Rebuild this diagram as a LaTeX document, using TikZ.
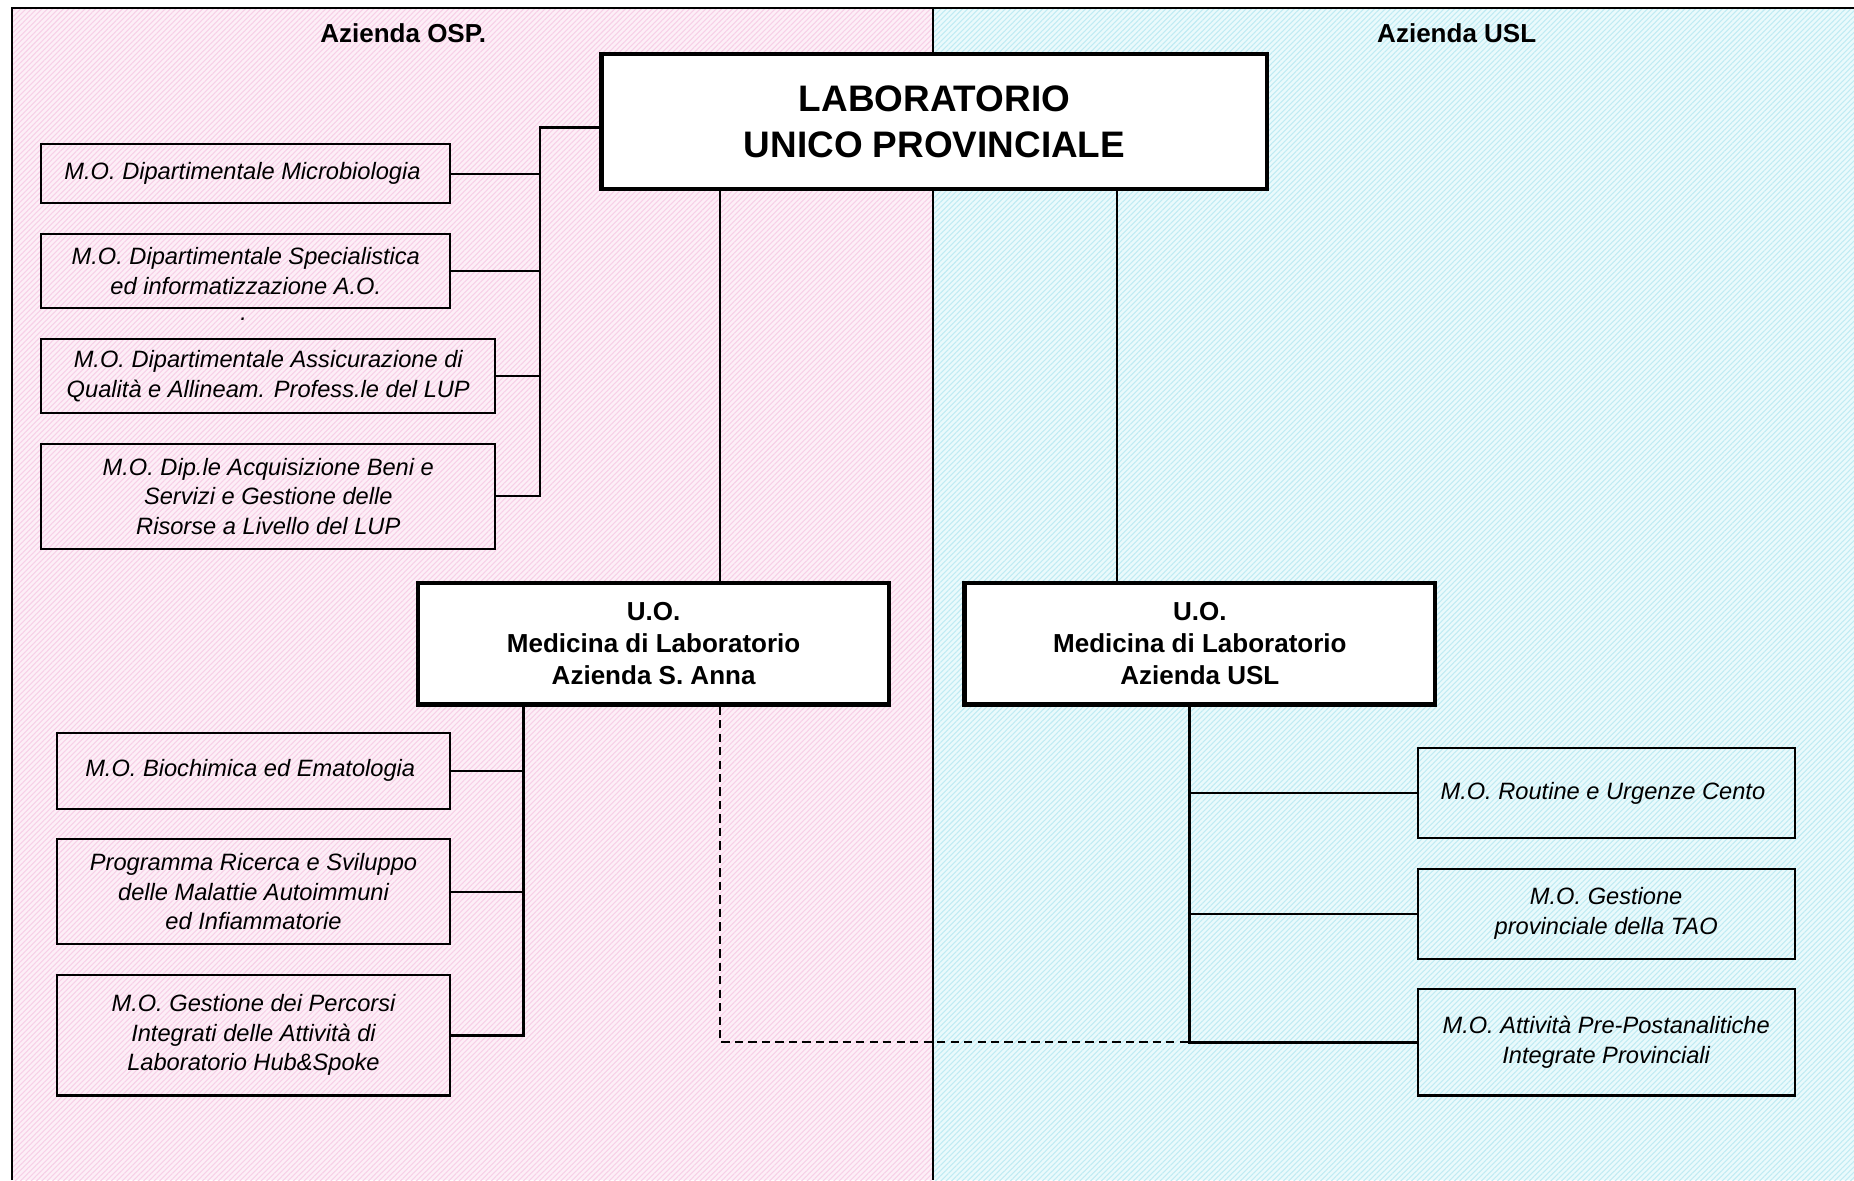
\documentclass[tikz,border=0pt]{standalone}
\usepackage{fontspec}
\setmainfont{Liberation Sans}
\usetikzlibrary{positioning,calc,patterns.meta}
\definecolor{OspPink}{HTML}{FDEFF7}
\definecolor{OspHatch}{HTML}{F7D0E7}
\definecolor{UslCyan}{HTML}{EAFAFC}
\definecolor{UslHatch}{HTML}{C0EBF3}

\begin{document}
\begin{tikzpicture}[
				x=0.5pt,y=-0.5pt,
				node distance=12pt,
				ombox/.style={
					draw,
					line width=0.9pt,
					inner sep=0pt,
					align=center,
					font=\fontsize{10}{12.5}\selectfont\itshape
				},
				uobox/.style={
					draw,
					line width=1.8pt,
					fill=white,
					inner sep=0pt,
					align=center,
					minimum width=199pt,
					minimum height=51.5pt,
					font=\fontsize{11}{13.5}\selectfont\bfseries
				},
				lupbox/.style={
					uobox,
					minimum width=281.5pt,
					minimum height=57pt,
					font=\fontsize{15.6}{19.5}\selectfont\bfseries
				},
				zonetitle/.style={
					font=\fontsize{11}{13}\selectfont\bfseries
				},
				link/.style={
					line width=0.9pt
				},
				trunk/.style={
					line width=1.2pt
				}
				]
				
				\useasboundingbox (0,0) rectangle (1568,998);
				
				% the two aziende
				\fill[OspPink] (10,7) rectangle (789,998);
				\fill[pattern={Lines[angle=45,distance=1.6pt,line width=0.45pt]},pattern color=OspHatch] (10,7) rectangle (789,998);
				\fill[UslCyan] (789,7) rectangle (1568,998);
				\fill[pattern={Lines[angle=45,distance=1.6pt,line width=0.45pt]},pattern color=UslHatch] (789,7) rectangle (1568,998);
				\draw[link] (10,998) -- (10,7) -- (1568,7);
				\draw[link] (789,7) -- (789,998);
				
				\node[zonetitle] (ospt) at (341,28) {Azienda OSP.};
				\node[zonetitle] (uslt) at (1232,28) {Azienda USL};
				
				% top level
				\node[lupbox, anchor=north west] (lup) at (507,44) {
					LABORATORIO\\UNICO PROVINCIALE
				};
				
				\node[uobox, anchor=north west] (sanna) at (352,491) {
					U.O.\\Medicina di Laboratorio\\Azienda S. Anna
				};
				
				\node[uobox, anchor=north west] (usl) at (814,491) {
					U.O.\\Medicina di Laboratorio\\Azienda USL
				};
				
				% staff of the LUP
				\node[
				ombox,
				minimum width=173pt,
				minimum height=25pt,
				anchor=north west
				] (osp1) at (34,121) {
					M.O. Dipartimentale Microbiologia
				};
				
				\node[
				ombox,
				minimum width=173pt,
				minimum height=31.5pt,
				below=of osp1
				] (osp2) {
					M.O. Dipartimentale Specialistica\\
					ed informatizzazione A.O.
				};
				
				\node[font=\fontsize{10}{12.5}\selectfont\itshape] (dot) at (206,270) {.};
				
				\node[
				ombox,
				minimum width=192pt,
				minimum height=31.5pt,
				below=of osp2.south west,
				anchor=north west
				] (osp3) {
					M.O. Dipartimentale Assicurazione di\\
					Qualità e Allineam. Profess.le del LUP
				};
				
				\node[
				ombox,
				minimum width=192pt,
				minimum height=44.5pt,
				below=of osp3
				] (osp4) {
					M.O. Dip.le Acquisizione Beni e\\
					Servizi e Gestione delle\\
					Risorse a Livello del LUP
				};
				
				% Azienda S. Anna
				\node[
				ombox,
				minimum width=166.5pt,
				minimum height=32pt,
				anchor=north west
				] (sa1) at (47,619) {
					M.O. Biochimica ed Ematologia
				};
				
				\node[
				ombox,
				minimum width=166.5pt,
				minimum height=44.5pt,
				below=of sa1
				] (sa2) {
					Programma Ricerca e Sviluppo\\
					delle Malattie Autoimmuni\\
					ed Infiammatorie
				};
				
				\node[
				ombox,
				minimum width=166.5pt,
				minimum height=51pt,
				below=of sa2
				] (sa3) {
					M.O. Gestione dei Percorsi\\
					Integrati delle Attività di\\
					Laboratorio Hub\&Spoke
				};
				
				% Azienda USL
				\node[
				ombox,
				minimum width=159.5pt,
				minimum height=38pt,
				anchor=north west
				] (us1) at (1198,632) {
					M.O. Routine e Urgenze Cento
				};
				
				\node[
				ombox,
				minimum width=159.5pt,
				minimum height=38pt,
				below=of us1
				] (us2) {
					M.O. Gestione\\
					provinciale della TAO
				};
				
				\node[
				ombox,
				minimum width=159.5pt,
				minimum height=45pt,
				below=of us2
				] (us3) {
					M.O. Attività Pre-Postanalitiche\\
					Integrate Provinciali
				};
				
				% connectors
				\coordinate (ospbus) at ($(lup.west)+(-50,5)$);
				\coordinate (lupl) at ($(lup.south west)+(102,0)$);
				\coordinate (lupr) at ($(lup.south east)+(-129,0)$);
				\coordinate (sabus) at ($(sanna.south west)+(91,0)$);
				\coordinate (usbus) at ($(usl.south west)+(192,0)$);
				
				\draw[link] (lup.west |- ospbus) -- (ospbus) |- (osp4.east);
				\foreach \n in {osp1,osp2,osp3}
				\draw[link] (\n.east) -- (\n.east -| ospbus);
				
				\draw[link] (lupl) -- (lupl |- sanna.north);
				\draw[link] (lupr) -- (lupr |- usl.north);
				
				\draw[trunk] (sabus) |- (sa3.east);
				\foreach \n in {sa1,sa2}
				\draw[link] (\n.east) -- (\n.east -| sabus);
				
				\draw[trunk] (usbus) |- (us3.west);
				\foreach \n in {us1,us2}
				\draw[link] (\n.west) -- (\n.west -| usbus);
				
				\draw[link, dash pattern=on 3.5pt off 2.2pt] (lupl |- sanna.south) |- (usbus |- us3.west);
				
			\end{tikzpicture}
\end{document}
